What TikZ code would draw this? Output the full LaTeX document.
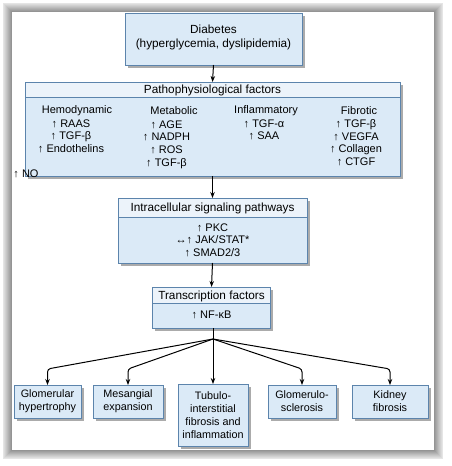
\documentclass[tikz,border=0pt]{standalone}
\usepackage{fontspec}
\setmainfont{Liberation Sans}
\usetikzlibrary{arrows.meta,shadows,calc}
\definecolor{boxfill}{RGB}{219,234,247}
\definecolor{headfill}{RGB}{236,243,250}
\definecolor{boxborder}{RGB}{92,132,172}
\tikzset{
  box/.style={draw=boxborder, fill=boxfill, line width=1pt,
    drop shadow={shadow xshift=2.5pt, shadow yshift=-2.5pt, fill=black!55, opacity=0.6},
    inner sep=0pt, outer sep=0pt},
  head/.style={draw=boxborder, fill=headfill, line width=1pt},
  headtxt/.style={font=\fontsize{11.8}{13}\selectfont, inner sep=0pt},
  bodytxt/.style={font=\fontsize{11}{12.6}\selectfont, align=center, inner sep=0pt},
  leaftxt/.style={font=\fontsize{10.8}{13.2}\selectfont, align=center, inner sep=0pt},
  arr/.style={-{Stealth[length=6pt,width=4.5pt]}, line width=1pt, black},
  lnk/.style={line width=1pt, black}
}
\begin{document}
\begin{tikzpicture}[x=1pt,y=-1pt]
\useasboundingbox (0,0) rectangle (452,466);
% outer frame
\foreach \i [evaluate=\i as \c using 10+4*\i] in {0,...,8}
  \fill[black!\c] (3+\i,3+\i) rectangle (443-\i,459-\i);
\fill[white] (12,12) rectangle (434,450);

% Diabetes
\node[box, minimum width=177, minimum height=52] (diab) at (213.5,39) {};
\node[headtxt, align=center, font=\fontsize{11.8}{14}\selectfont] (diabt) at (213.5,37) {Diabetes\\(hyperglycemia, dyslipidemia)};

% Pathophysiological factors
\node[box, minimum width=375, minimum height=94] (patho) at (212.5,129) {};
\path[head] (patho.north west) rectangle ($(patho.north east)+(0,15)$);
\node[headtxt] (pathot) at (212.5,90) {Pathophysiological factors};
\node[bodytxt] (hemo) at (77,111) {Hemodynamic};
\node[bodytxt] (meta) at (174,111) {Metabolic};
\node[bodytxt] (infl) at (266,111) {Inflammatory};
\node[bodytxt] (fibr) at (359,111) {Fibrotic};
\node[bodytxt, anchor=north] (hemoi) at (71,119.5) {↑ RAAS\\↑ TGF-β\\↑ Endothelins};
\node[bodytxt, anchor=north] (metai) at (166.5,120.5) {↑ AGE\\↑ NADPH\\↑ ROS\\↑ TGF-β};
\node[bodytxt, anchor=north] (infli) at (264,119.5) {↑ TGF-α\\↑ SAA};
\node[bodytxt, anchor=north] (fibri) at (356,119.5) {↑ TGF-β\\↑ VEGFA\\↑ Collagen\\↑ CTGF};
\node[bodytxt] (no) at (26,174) {↑ NO};

% Intracellular signaling pathways
\node[box, minimum width=189, minimum height=65] (intra) at (212.5,230.5) {};
\path[head] (intra.north west) rectangle ($(intra.north east)+(0,19)$);
\node[headtxt] (intrat) at (212.5,208) {Intracellular signaling pathways};
\node[bodytxt, anchor=north] (intrai) at (212.5,223.5) {↑ PKC\\↔↑ JAK/STAT*\\↑ SMAD2/3};

% Transcription factors
\node[box, minimum width=118, minimum height=41] (trans) at (211.5,307.5) {};
\path[head] (trans.north west) rectangle ($(trans.north east)+(0,16)$);
\node[headtxt] (transt) at (211.5,296.5) {Transcription factors};
\node[bodytxt] (transi) at (211.5,314.5) {↑ NF-κB};

% leaves
\node[box, minimum width=67, minimum height=33] (g1) at (47.5,401.5) {};
\node[leaftxt] at (g1) {Glomerular\\hypertrophy};
\node[box, minimum width=70, minimum height=33] (g2) at (128,401.5) {};
\node[leaftxt] at (g2) {Mesangial\\expansion};
\node[box, minimum width=70, minimum height=62] (g3) at (213,415) {};
\node[leaftxt] at (g3) {Tubulo-\\interstitial\\fibrosis and\\inflammation};
\node[box, minimum width=68, minimum height=33] (g4) at (302,401.5) {};
\node[leaftxt] at (g4) {Glomerulo-\\sclerosis};
\node[box, minimum width=76, minimum height=33] (g5) at (390,401.5) {};
\node[leaftxt] at (g5) {Kidney\\fibrosis};

% connectors
\draw[arr] (diab.south) -- (patho.north);
\draw[arr] (patho.south) -- (intra.north);
\draw[arr] (intra.south) -- (trans.north);
\coordinate (br) at (213,339);
\draw[lnk] (trans.south -| br) -- (br);
\draw[arr] (br) -- (g3.north);
\foreach \g in {g1,g2,g4,g5}
  \draw[arr, rounded corners=3pt] (br) -- ($(\g.north)+(0,-16)$) -- (\g.north);
\end{tikzpicture}
\end{document}
